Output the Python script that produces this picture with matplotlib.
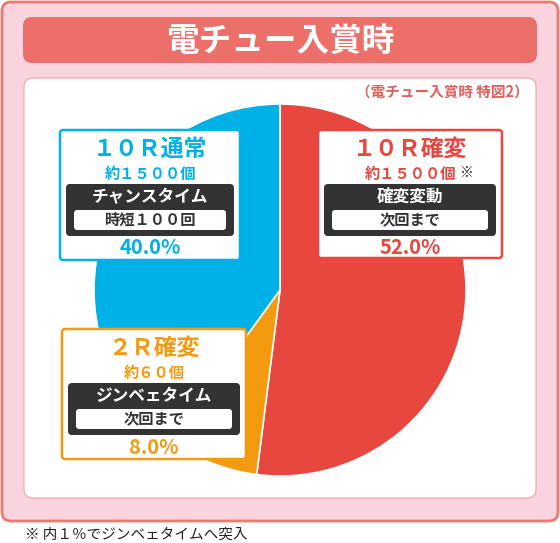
import matplotlib.pyplot as plt
from matplotlib.patches import FancyBboxPatch

plt.rcParams['font.family'] = ['Noto Sans CJK JP', 'DejaVu Sans']

W, H = 560, 543

# pie data, clockwise from 12 o'clock
labels = ['１０Ｒ確変', '２Ｒ確変', '１０Ｒ通常']
shares = [52.0, 8.0, 40.0]
colors = ['#e8473f', '#f39a10', '#00b1e7']

payouts = ['約１５００個', '約６０個', '約１５００個']
modes = ['確変変動', 'ジンベェタイム', 'チャンスタイム']
durations = ['次回まで', '次回まで', '時短１００回']

title = '電チュー入賞時'
subtitle = '（電チュー入賞時 特図2）'
footnote = '※ 内１％でジンベェタイムへ突入'

# label boxes: x0, x1, y0, y1 in pixels from top-left
boxes = [(318, 502, 130, 258), (62, 246, 329, 459), (60, 240, 130, 260)]


def fy(y):
    return H - y


def rbox(ax, x0, x1, y0, y1, fc, ec='none', lw=0, r=4, z=2):
    p = FancyBboxPatch((x0, fy(y1)), x1 - x0, y1 - y0,
                       boxstyle='round,pad=0,rounding_size=%s' % r,
                       fc=fc, ec=ec, lw=lw, zorder=z)
    ax.add_patch(p)


fig = plt.figure(figsize=(W / 100, H / 100), dpi=100)
ax = fig.add_axes([0, 0, 1, 1])

# frame and header
rbox(ax, 2, 558, 2, 521, '#f9d4df', '#eb7a72', 2, r=9, z=0)
rbox(ax, 23, 537, 17, 63, '#ec6f69', r=9, z=1)
ax.text(280, fy(41), title, color='white', fontsize=23.5, weight='bold',
        ha='center', va='center', zorder=3)
rbox(ax, 24, 536, 78, 498, 'white', '#f2a3a3', 0.8, r=9, z=1)
ax.text(529, fy(92), subtitle, color='#e0605c', fontsize=10.5, weight='bold',
        ha='right', va='center', zorder=3)

# pie
ax.pie(shares, colors=colors, startangle=90, counterclock=False,
       center=(280, fy(290)), radius=186,
       wedgeprops=dict(edgecolor='white', linewidth=1.2, zorder=2))

# label boxes
for i, (x0, x1, y0, y1) in enumerate(boxes):
    c = colors[i]
    cx = (x0 + x1) / 2
    rbox(ax, x0, x1, y0, y1, 'white', c, 1.8, r=3, z=4)
    ax.text(cx, fy(y0 + 19), labels[i], color=c, fontsize=16.5, weight='bold',
            ha='center', va='center', zorder=6)
    ax.text(cx, fy(y0 + 44), payouts[i], color=c, fontsize=11, weight='bold',
            ha='center', va='center', zorder=6)
    rbox(ax, x0 + 6, x1 - 6, y0 + 54, y0 + 106, '#333333', r=4, z=5)
    ax.text(cx, fy(y0 + 67), modes[i], color='white', fontsize=12,
            weight='bold', ha='center', va='center', zorder=6)
    rbox(ax, x0 + 14, x1 - 14, y0 + 80, y0 + 100, 'white', r=3, z=6)
    ax.text(cx, fy(y0 + 90), durations[i], color='#333333', fontsize=11,
            weight='bold', ha='center', va='center', zorder=7)
    ax.text(cx, fy(y0 + 118), '%.1f%%' % shares[i], color=c, fontsize=14.5,
            weight='bold', ha='center', va='center', zorder=6)

# note mark next to the 10R確変 payout
ax.text(467, fy(173), '※', color='#333333', fontsize=10, ha='center',
        va='center', zorder=6)

ax.text(25, fy(535), footnote, color='#222222', fontsize=10.5,
        ha='left', va='center')

ax.set_xlim(0, W)
ax.set_ylim(0, H)
ax.set_aspect('auto')
ax.axis('off')

fig.savefig('out.png', dpi=100)
